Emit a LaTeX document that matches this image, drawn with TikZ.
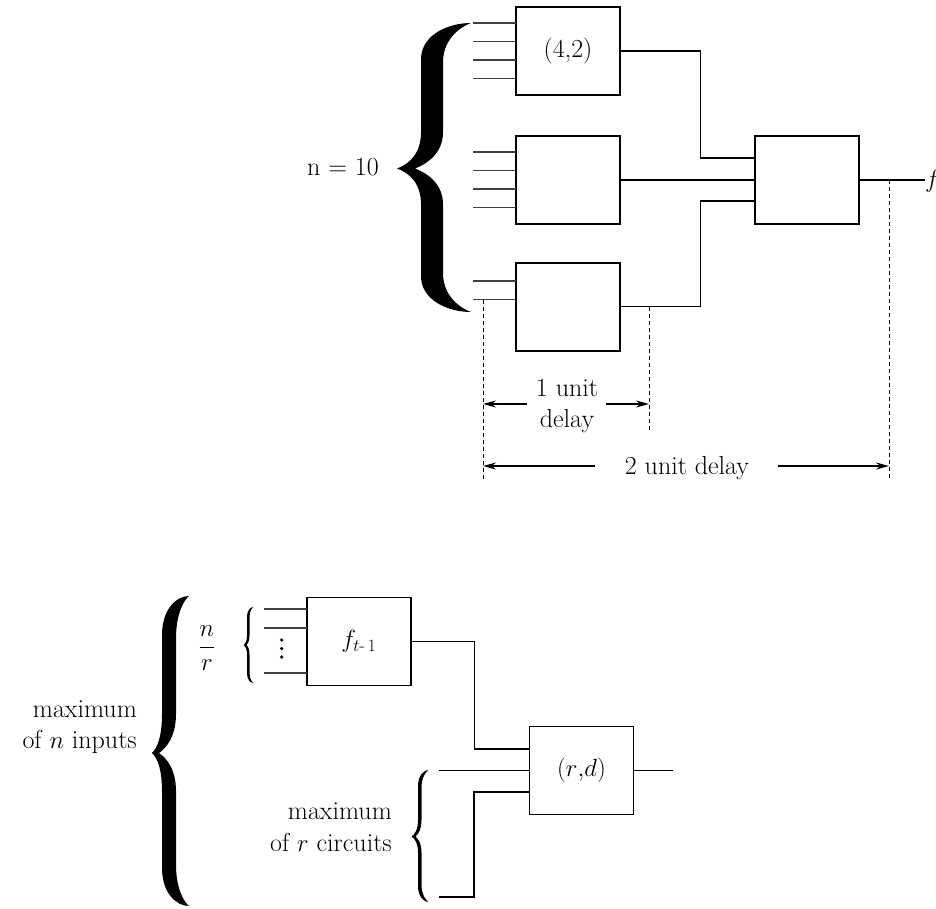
\documentclass[tikz,border=0pt]{standalone}
\usepackage{amsmath}
\usetikzlibrary{calc,arrows.meta}
% #1 tip x, #2 stem left, #3 stem right, #4 end x, #5 top y, #6 middle y, #7 bottom y, #8 notch x
\newcommand\fillbrace[8]{%
\fill (#4,#5) .. controls ({#4-0.45*(#4-#2)},#5) and (#2,{#5+0.08*(#6-#5)}) .. (#2,{#5+0.25*(#6-#5)})
 -- (#2,{#6-0.25*(#6-#5)}) .. controls (#2,{#6-0.1*(#6-#5)}) and ({#1+0.5*(#2-#1)},{#6-0.03*(#6-#5)}) .. (#1,#6)
 .. controls ({#1+0.5*(#2-#1)},{#6+0.03*(#7-#6)}) and (#2,{#6+0.1*(#7-#6)}) .. (#2,{#6+0.25*(#7-#6)})
 -- (#2,{#7-0.25*(#7-#6)}) .. controls (#2,{#7-0.08*(#7-#6)}) and ({#4-0.45*(#4-#2)},#7) .. (#4,#7)
 .. controls ({#4-0.3*(#4-#3)},{#7-0.02*(#7-#6)}) and (#3,{#7-0.1*(#7-#6)}) .. (#3,{#7-0.27*(#7-#6)})
 -- (#3,{#6+0.25*(#7-#6)}) .. controls (#3,{#6+0.1*(#7-#6)}) and ({#8+0.4*(#3-#8)},{#6+0.03*(#7-#6)}) .. (#8,#6)
 .. controls ({#8+0.4*(#3-#8)},{#6-0.03*(#6-#5)}) and (#3,{#6-0.1*(#6-#5)}) .. (#3,{#6-0.25*(#6-#5)})
 -- (#3,{#5+0.27*(#6-#5)}) .. controls (#3,{#5+0.1*(#6-#5)}) and ({#4-0.3*(#4-#3)},{#5+0.02*(#6-#5)}) .. (#4,#5) -- cycle;}
\begin{document}
\begin{tikzpicture}[x=1pt,y=-1pt,
  font=\fontsize{26}{31}\selectfont,
  blk/.style={draw, line width=1.8pt, minimum width=104pt, minimum height=88pt, inner sep=0pt, outer sep=0pt},
  wire/.style={line width=1.4pt},
  stub/.style={line width=1.6pt, draw=black!75},
  dim/.style={line width=1pt, dash pattern=on 4pt off 3pt},
  meas/.style={line width=1.2pt, -{Stealth[length=13pt,width=7pt]}},
  lbl/.style={inner sep=0pt}]
\useasboundingbox (0,0) rectangle (936,909);

% ---------- upper diagram ----------
\node[blk] (A) at (568,51) {(4,2)};
\node[blk] (B) at (568,180) {};
\node[blk] (C) at (568,306.7) {};
\node[blk] (D) at (806.8,180) {};

\foreach \o in {16,34.5,53,71.5} {
  \draw[stub] ($(A.north west)+(0,\o)$) -- ++(-43,0);
  \draw[stub] ($(B.north west)+(0,\o)$) -- ++(-43,0);
}
\foreach \o in {18.3,36.6} {
  \draw[stub] ($(C.north west)+(0,\o)$) -- ++(-43,0);
}

\draw[wire] (A.east) -| ($(D.west)+(-54.5,-22)$) -- ($(D.west)+(0,-22)$);
\draw[wire] (B.east) -- (D.west);
\draw[wire] (C.east) -| ($(D.west)+(-54.5,21)$) -- ($(D.west)+(0,21)$);
\coordinate (fend) at (925,180);
\draw[wire] (D.east) -- (fend);
\node[lbl, anchor=base west] (fo) at (925,188) {$f$};

\node[lbl, anchor=base east] (n10) at (379,176) {n = 10};
\fillbrace{397}{421}{443}{471}{23}{168.5}{312}{415}

% dimension lines
\coordinate (t1) at (483,300);  \coordinate (b1) at (483,479);
\coordinate (t2) at (649,307);  \coordinate (b2) at (649,432);
\coordinate (t3) at (889,180);  \coordinate (b3) at (889,479);
\draw[dim] (t1) -- (b1);
\draw[dim] (t2) -- (b2);
\draw[dim] (t3) -- (b3);

\node[lbl, anchor=base] (u1) at (567,396) {1 unit};
\node[lbl, anchor=base] (u1b) at (567,427) {delay};
\coordinate (a1l) at (527,404);
\coordinate (a1r) at (606,404);
\draw[meas] (a1l) -- (a1l -| t1);
\draw[meas] (a1r) -- (a1r -| t2);

\node[lbl, anchor=base] (u2) at (687,474) {2 unit delay};
\coordinate (a2l) at (595,466);
\coordinate (a2r) at (778,466);
\draw[meas] (a2l) -- (a2l -| t1);
\draw[meas] (a2r) -- (a2r -| t3);

% ---------- lower diagram ----------
\node[blk] (F) at (358.8,641.5) {$f_{t\text{-}\,1}$};
\node[blk] (RD) at (581.5,770.5) {$(r{,}d)$};

\foreach \o in {11.7,30.4,75.4} {
  \draw[stub] ($(F.north west)+(0,\o)$) -- ++(-42.7,0);
}
\fill (281.7,640) circle (1.8);
\fill (281.7,648.5) circle (1.8);
\fill (281.7,657) circle (1.8);

\draw[wire] (F.east) -| ($(RD.west)+(-55.3,-21.5)$) -- ($(RD.west)+(0,-21.5)$);
\coordinate (i2) at (439,770.5);
\draw[wire] (i2) -- (RD.west);
\coordinate (v3) at (474,897);
\coordinate (i3) at (439,897);
\draw[wire] ($(RD.west)+(0,21.5)$) -| (v3) -- (i3);
\coordinate (o2) at (673,770.5);
\draw[wire] (RD.east) -- (o2);

\node[lbl] (nr) at (207,648) {$\displaystyle\frac{n}{r}$};
\node[lbl, anchor=base east] (m1) at (137,717) {maximum};
\node[lbl, anchor=base east] (m2) at (137,748) {of $n$ inputs};
\node[lbl, anchor=base east] (m3) at (392,819) {maximum};
\node[lbl, anchor=base east] (m4) at (392,851) {of $r$ circuits};

\fillbrace{152}{162}{176}{189}{596}{753}{906}{159}
\fillbrace{243.5}{247}{249.5}{253.5}{607}{645}{683}{246.5}
\fillbrace{411.5}{418}{421.5}{428.5}{770}{836.5}{902}{415.5}
\end{tikzpicture}
\end{document}
